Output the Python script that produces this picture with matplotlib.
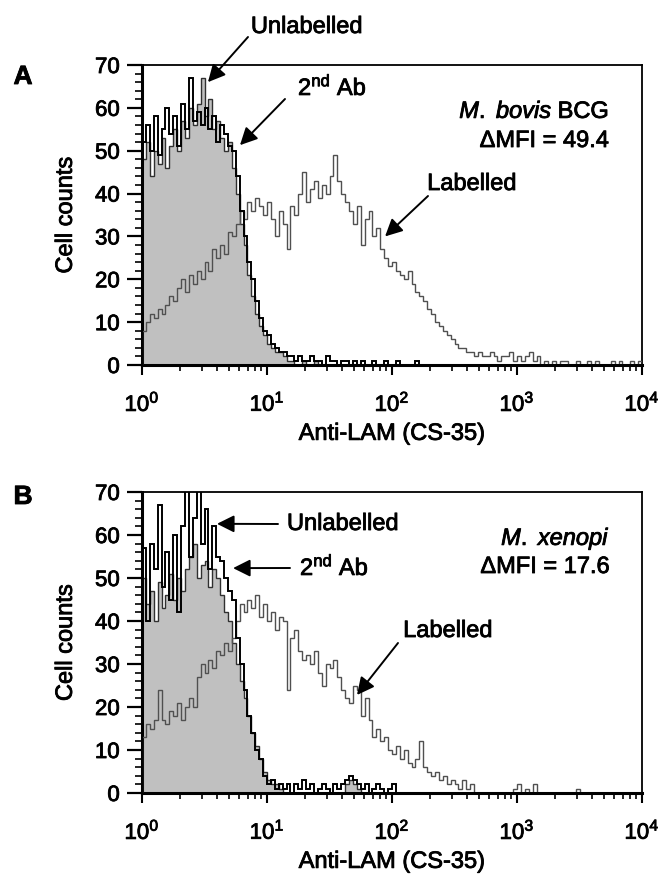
#!/usr/bin/env python

import numpy as np
import matplotlib
matplotlib.use('Agg')
import matplotlib.pyplot as plt
import matplotlib.patheffects as pe
from matplotlib.text import Text
from matplotlib.ticker import MultipleLocator, LogLocator, NullFormatter, FixedLocator

plt.rcParams['font.family'] = ['Liberation Sans', 'DejaVu Sans']
plt.rcParams['mathtext.fontset'] = 'custom'
plt.rcParams['mathtext.rm'] = 'Liberation Sans'
plt.rcParams['mathtext.it'] = 'Liberation Sans:italic'
plt.rcParams['mathtext.default'] = 'regular'

# Channels: 32 per decade over 10^0 .. 10^4
# ---- Panel A: M. bovis BCG ----
a_unlabelled = [
    48, 52, 44, 50, 47, 53, 46, 51, 55, 50, 57, 53, 60, 56, 61, 67,
    58, 62, 55, 57, 53, 50, 52, 46, 40, 33, 28, 21, 16, 12, 9, 7,
    5, 4, 3, 3, 2, 1, 1, 0, 0, 1, 0, 0, 1, 0, 0, 0,
    0, 0, 0, 0, 0, 0, 0, 0, 0, 0, 0, 0, 0, 0, 0, 0,
    0, 0, 0, 0, 0, 0, 0, 0, 0, 0, 0, 0, 0, 0, 0, 0,
    0, 0, 0, 0, 0, 0, 0, 0, 0, 0, 0, 0, 0, 0, 0, 0,
    0, 0, 0, 0, 0, 0, 0, 0, 0, 0, 0, 0, 0, 0, 0, 0,
    0, 0, 0, 0, 0, 0, 0, 0, 0, 0, 0, 0, 0, 0, 0, 0,
]
a_second_ab = [
    52, 56, 50, 58, 49, 55, 60, 54, 58, 51, 61, 55, 67, 57, 59, 56,
    60, 55, 58, 52, 56, 54, 51, 50, 44, 36, 30, 24, 20, 15, 11, 8,
    7, 5, 4, 3, 3, 2, 2, 1, 2, 1, 1, 2, 1, 1, 0, 2,
    1, 1, 0, 1, 1, 0, 1, 0, 1, 0, 0, 1, 0, 0, 1, 0,
    0, 1, 0, 0, 0, 0, 1, 0, 0, 0, 0, 0, 0, 0, 0, 0,
    0, 0, 0, 0, 0, 0, 0, 0, 0, 0, 0, 0, 0, 0, 0, 0,
    0, 0, 0, 0, 0, 0, 0, 0, 0, 0, 0, 0, 0, 0, 0, 0,
    0, 0, 0, 0, 0, 0, 0, 0, 0, 0, 0, 0, 0, 0, 0, 0,
]
a_labelled = [
    8, 10, 12, 11, 13, 12, 14, 16, 15, 18, 20, 17, 21, 19, 22, 20,
    24, 22, 27, 25, 28, 26, 31, 30, 33, 36, 34, 38, 36, 39, 37, 35,
    38, 34, 30, 36, 33, 27, 37, 35, 40, 45, 38, 41, 43, 39, 42, 40,
    44, 49, 43, 40, 38, 36, 33, 37, 28, 34, 36, 30, 32, 27, 25, 23,
    24, 22, 21, 20, 22, 19, 17, 16, 15, 13, 12, 10, 9, 8, 7, 6,
    5, 4, 4, 3, 3, 2, 3, 2, 2, 3, 2, 1, 2, 2, 3, 1,
    2, 1, 2, 3, 1, 2, 0, 1, 0, 1, 0, 1, 1, 0, 0, 1,
    0, 0, 1, 0, 1, 0, 0, 0, 1, 0, 1, 0, 0, 1, 0, 1,
]

# ---- Panel B: M. xenopi ----
b_unlabelled = [
    50, 44, 47, 40, 49, 43, 46, 51, 45, 50, 47, 52, 55, 58, 50, 53,
    54, 48, 52, 50, 46, 42, 40, 35, 30, 26, 22, 18, 14, 11, 8, 5,
    3, 2, 2, 1, 0, 0, 0, 0, 0, 0, 0, 0, 0, 0, 0, 0,
    0, 0, 0, 0, 2, 3, 2, 1, 0, 0, 0, 0, 0, 0, 0, 0,
    0, 0, 0, 0, 0, 0, 0, 0, 0, 0, 0, 0, 0, 0, 0, 0,
    0, 0, 0, 0, 0, 0, 0, 0, 0, 0, 0, 0, 0, 0, 0, 0,
    0, 0, 0, 0, 0, 0, 0, 0, 0, 0, 0, 0, 0, 0, 0, 0,
    0, 0, 0, 0, 0, 0, 0, 0, 0, 0, 0, 0, 0, 0, 0, 0,
]
b_second_ab = [
    57, 40, 58, 52, 67, 48, 56, 45, 60, 42, 62, 72, 55, 64, 72, 58,
    66, 52, 62, 55, 54, 50, 47, 45, 36, 30, 24, 18, 14, 10, 8, 4,
    2, 3, 1, 2, 1, 2, 0, 2, 1, 3, 1, 2, 0, 1, 2, 1,
    0, 2, 1, 2, 3, 4, 3, 2, 1, 2, 0, 1, 2, 1, 0, 1,
    2, 0, 0, 0, 0, 0, 0, 0, 0, 0, 0, 0, 0, 0, 0, 0,
    0, 0, 0, 0, 0, 0, 0, 0, 0, 0, 0, 0, 0, 0, 0, 0,
    0, 0, 0, 0, 0, 0, 0, 0, 0, 0, 0, 0, 0, 0, 0, 0,
    0, 0, 0, 0, 0, 0, 0, 0, 0, 0, 0, 0, 0, 0, 0, 0,
]
b_labelled = [
    13, 16, 15, 17, 24, 17, 16, 19, 18, 21, 17, 20, 22, 20, 27, 30,
    28, 31, 29, 33, 32, 35, 33, 36, 40, 44, 42, 45, 43, 46, 41, 44,
    40, 42, 38, 41, 40, 24, 36, 38, 33, 31, 32, 30, 33, 28, 25, 30,
    29, 31, 27, 24, 22, 21, 25, 24, 18, 22, 17, 13, 15, 12, 13, 10,
    9, 11, 8, 10, 7, 6, 8, 12, 6, 5, 4, 5, 3, 4, 2, 3,
    2, 1, 3, 1, 2, 0, 0, 0, 0, 0, 0, 0, 0, 0, 0, 1,
    2, 0, 1, 0, 2, 0, 0, 0, 0, 0, 0, 0, 0, 0, 0, 1,
    0, 0, 0, 0, 0, 0, 0, 0, 0, 0, 0, 0, 0, 0, 0, 0,
]

edges = 10 ** (np.arange(129) / 32)

W, H = 661, 877
FS = 17
fig = plt.figure(figsize=(W / 100, H / 100), dpi=100)


def px(x, y):
    # image pixel -> figure fraction
    return x / W, 1 - y / H


def draw_panel(ax, unl, sec, lab):
    ax.stairs(unl, edges, fill=True, color='#c0c0c0', zorder=1)
    ax.stairs(unl, edges, color='#303030', lw=1.0, zorder=2)
    ax.stairs(lab, edges, color='#505050', lw=1.0, zorder=3)
    ax.stairs(sec, edges, color='black', lw=1.4, zorder=4)
    ax.set_xscale('log')
    ax.set_xlim(1, 1e4)
    ax.set_ylim(0, 70)
    ax.yaxis.set_major_locator(MultipleLocator(10))
    ax.yaxis.set_minor_locator(MultipleLocator(2))
    ax.xaxis.set_major_locator(FixedLocator([1, 10, 100, 1000, 10000]))
    ax.xaxis.set_minor_locator(LogLocator(base=10, subs=np.arange(2, 10)))
    ax.xaxis.set_minor_formatter(NullFormatter())
    ax.set_xticklabels(['$10^{0}$', '$10^{1}$', '$10^{2}$', '$10^{3}$', '$10^{4}$'])
    ax.tick_params(axis='y', which='major', length=11, width=1.6, labelsize=16, pad=5)
    ax.tick_params(axis='y', which='minor', length=5, width=1.2)
    ax.tick_params(axis='x', which='major', length=7, width=1.5, labelsize=16, pad=11)
    ax.tick_params(axis='x', which='minor', length=4.5, width=1.2)
    for s in ['left', 'bottom']:
        ax.spines[s].set_linewidth(2.2)
    for s in ['top', 'right']:
        ax.spines[s].set_linewidth(1.3)
    ax.set_ylabel('Cell counts', fontsize=FS, labelpad=13)
    ax.set_xlabel('Anti-LAM (CS-35)', fontsize=FS, labelpad=5)


def label(x, y, s, ha='left'):
    fig.text(*px(x, y), s, fontsize=FS, ha=ha, va='baseline')


def arrow(ax, tip, tail):
    ax.annotate('', xy=tip, xycoords='data',
                xytext=px(*tail), textcoords='figure fraction',
                arrowprops=dict(arrowstyle='-|>', color='black', lw=1.4,
                                mutation_scale=26, shrinkA=0, shrinkB=0))


axA = fig.add_axes([142 / W, 1 - 365 / H, 500 / W, 300 / H])
draw_panel(axA, a_unlabelled, a_second_ab, a_labelled)

axB = fig.add_axes([142 / W, 1 - 793 / H, 500 / W, 301 / H])
draw_panel(axB, b_unlabelled, b_second_ab, b_labelled)

# Panel letters
fig.text(*px(23, 84), 'A', fontsize=19, fontweight='bold', ha='center', va='baseline')
fig.text(*px(23, 504), 'B', fontsize=19, fontweight='bold', ha='center', va='baseline')

# Panel A annotations
label(307, 33, 'Unlabelled', ha='center')
arrow(axA, (3.37, 66), (248, 37))
label(298, 95, '2$^{nd}$ Ab')
arrow(axA, (6.08, 51.3), (285, 99))
label(609, 118, r'$\mathit{M.\ bovis}$ BCG', ha='right')
label(609, 147, '\u0394MFI = 49.4', ha='right')
label(472, 190, 'Labelled', ha='center')
arrow(axA, (88, 30), (428, 196))

# Panel B annotations
label(287, 530, 'Unlabelled')
arrow(axB, (3.98, 62.6), (278, 524))
label(300, 575, '2$^{nd}$ Ab')
arrow(axB, (5.35, 52.3), (290, 568))
label(610, 545, r'$\mathit{M.\ xenopi}$', ha='right')
label(610, 573, '\u0394MFI = 17.6', ha='right')
label(448, 637, 'Labelled', ha='center')
arrow(axB, (52.5, 22.8), (398, 643))

# the scanned figure has heavy-looking type: thicken glyphs slightly
for t in fig.findobj(Text):
    t.set_path_effects([pe.withStroke(linewidth=0.6, foreground='black')])

fig.savefig('out.png', dpi=100)
